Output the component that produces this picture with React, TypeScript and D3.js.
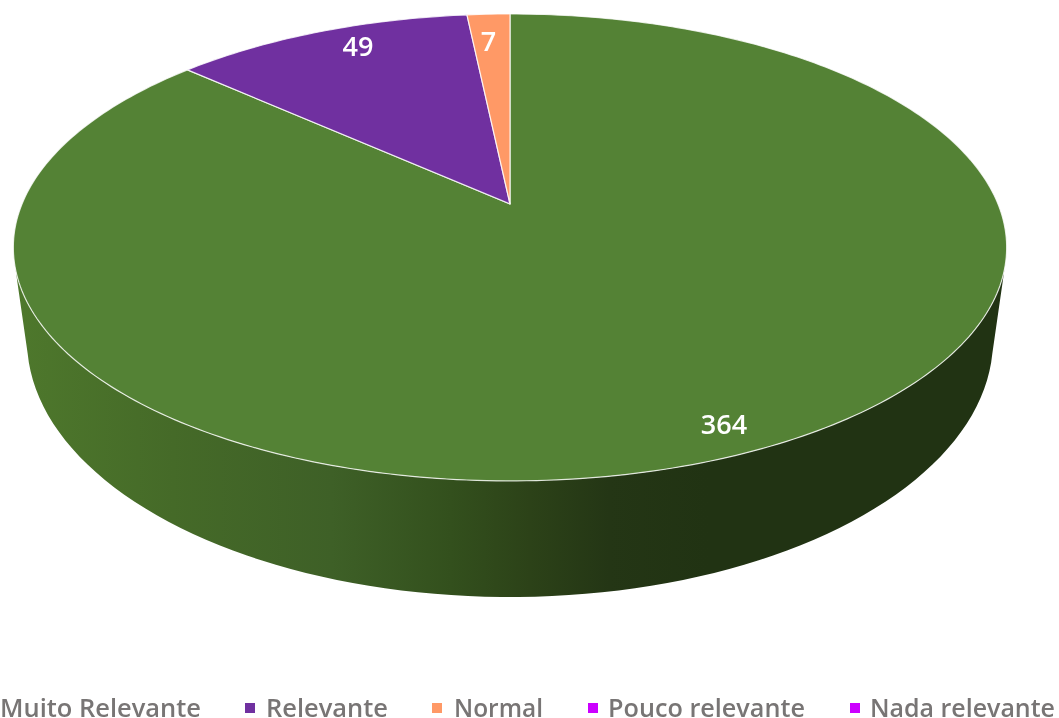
import React from "react";
import * as d3 from "d3";

const categories = ["Muito Relevante", "Relevante", "Normal", "Pouco relevante", "Nada relevante"];
const values = [364, 49, 7, 0, 0];
const colors = ["#548235", "#7030a0", "#ff9966", "#cc00ff", "#cc00ff"];
const legendX = [0, 266, 454, 608, 870];
const legendWidths = [201, 122, 89, 197, 185];
const swatchX = [-24, 245, 432, 588, 850];

const width = 1059;
const height = 718;

// pie plan view -> screen, the top face is in perspective so the centre sits above the ellipse middle
const cx = 510;
const cy = 204;
const f = 488;
const g = 225.4;
const k = -0.186;

const project = (a: number): [number, number] => {
  const u = Math.sin(a);
  const v = -Math.cos(a);
  const w = 1 + k * v;
  return [cx + (f * u) / w, cy + (g * v) / w];
};

// lower rim of the side wall
const rimX = d3.scaleLinear().domain([-1, 1]).range([510 - 483, 510 + 483]);
const rimY = d3.scaleLinear().domain([-1, 1]).range([340 - 257, 340 + 257]);

const line = d3.line();

const arcPoints = (a0: number, a1: number) => {
  const n = Math.max(2, Math.ceil(Math.abs(a1 - a0) * 60));
  return d3.range(n + 1).map((i) => project(a0 + ((a1 - a0) * i) / n));
};

const App: React.FC = () => {
  const pie = d3.pie<number>().sort(null);
  const slices = pie(values);

  // right side tangent, round the front, to the left side tangent
  const sideStart = (Math.PI / 180) * 106;
  const sideEnd = (Math.PI / 180) * 254;
  const topEdge = arcPoints(sideStart, sideEnd);
  const bottomEdge = d3.range(3, 178, 2).map((deg) => {
    const t = (deg * Math.PI) / 180;
    return [rimX(-Math.cos(t)), rimY(Math.sin(t))] as [number, number];
  });
  const sidePath = line([...topEdge, ...bottomEdge]) + "Z";

  const labelAt = [
    { text: "364", x: 724, y: 427 },
    { text: "49", x: 358, y: 49 },
    { text: "7", x: 488.5, y: 44 },
  ];

  return (
    <svg width={width} height={height} style={{ position: "absolute", left: 0, top: 0 }}>
      <defs>
        <linearGradient id="side" gradientUnits="userSpaceOnUse" x1={14} x2={1006} y1={0} y2={0}>
          <stop offset="0" stopColor="#4e782c" />
          <stop offset="0.16" stopColor="#456a28" />
          <stop offset="0.32" stopColor="#3e6027" />
          <stop offset="0.44" stopColor="#33501d" />
          <stop offset="0.52" stopColor="#2c4218" />
          <stop offset="0.6" stopColor="#243615" />
          <stop offset="0.7" stopColor="#213313" />
          <stop offset="1" stopColor="#213313" />
        </linearGradient>
        <filter id="soft" x="-5%" y="-20%" width="110%" height="140%">
          <feGaussianBlur stdDeviation="0.45" />
        </filter>
      </defs>
      <path d={sidePath} fill="url(#side)" />
      {slices.map((s, i) =>
        s.endAngle > s.startAngle ? (
          <path
            key={categories[i]}
            d={line([[cx, cy], ...arcPoints(s.startAngle, s.endAngle)]) + "Z"}
            fill={colors[i]}
            stroke="#ffffff"
            strokeOpacity={0.8}
            strokeWidth={1.2}
            strokeLinejoin="round"
          />
        ) : null
      )}
      {labelAt.map((d) => (
        <text
          key={d.text}
          x={d.x}
          y={d.y}
          textAnchor="middle"
          dominantBaseline="middle"
          fontFamily="'Open Sans', sans-serif"
          fontWeight={600}
          fontSize={27}
          fill="#ffffff"
          filter="url(#soft)"
        >
          {d.text}
        </text>
      ))}
      {categories.map((c, i) => (
        <g key={c}>
          <rect x={swatchX[i]} y={703} width={10} height={10} fill={colors[i]} />
          <text
            x={legendX[i]}
            y={717}
            fontFamily="'Open Sans', sans-serif"
            fontWeight={600}
            fontSize={25}
            fill="#787574"
            textLength={legendWidths[i]}
            lengthAdjust="spacingAndGlyphs"
            filter="url(#soft)"
          >
            {c}
          </text>
        </g>
      ))}
    </svg>
  );
};

export default App;
